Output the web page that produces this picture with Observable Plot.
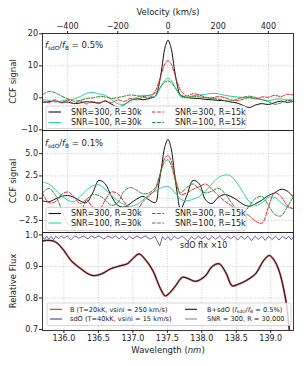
<!DOCTYPE html>
<html><head><meta charset="utf-8">
<script src="https://cdn.jsdelivr.net/npm/d3@7"></script>
<script src="https://cdn.jsdelivr.net/npm/@observablehq/plot@0.6"></script>
<style>
body{margin:0;background:#fff;}
#fig{position:relative;width:304px;height:366px;overflow:hidden;background:#fff;}
</style></head><body><div id="fig"></div><script>
// ---------- data ----------
const vel = [-500,-475,-450,-425,-400,-375,-350,-325,-300,-275,-250,-225,-200,-175,-150,-125,-100,-75,-50,
  -37.5,-25,-12.5,0,12.5,25,37.5,
  50,75,100,125,150,175,200,225,250,275,300,325,350,375,400,425,450,475,500];
// panel 1 : f_sdO/f_B = 0.5%
const p1Snr300R30 = [-1.5,-1.2,-1.0,-1.4,-1.3,-1.8,-1.6,-1.2,-1.4,-1.6,-1.0,-2.0,-2.8,-2.2,-0.8,-0.3,-0.6,-0.2,0.6,
  3.5,9.0,15.5,18.0,15.5,9.2,3.8,
  0.8,0.1,-0.1,-0.2,-0.5,-0.6,-0.8,-0.9,-1.3,-1.6,-2.4,-3.0,-2.2,-1.8,-2.1,-1.5,-1.0,-1.4,-1.1];
const p1Snr100R30 = [-0.5,-0.8,-1.3,-1.0,-0.6,-0.4,0.4,1.4,1.7,1.2,0.8,-0.6,-1.8,-2.0,-1.0,0.1,0.8,0.6,0.5,
  2.0,3.9,5.5,6.1,5.4,3.8,1.9,
  0.4,0.0,0.6,0.9,1.1,1.4,1.3,0.8,0.5,0.3,0.1,-0.1,-0.3,-0.6,-0.9,-0.5,-0.3,-0.6,-0.4];
const p1Snr300R15 = [-0.8,-1.5,-0.6,-1.6,-0.7,-1.8,-1.0,-1.9,-1.1,-1.8,-0.9,-1.5,-0.6,-1.1,-0.2,-0.6,0.2,0.0,2.2,
  4.8,7.8,10.6,11.6,10.6,7.8,4.8,
  2.4,0.6,1.3,0.9,0.2,0.0,0.4,0.1,-0.6,-0.9,-0.4,0.2,-0.3,0.3,0.2,0.8,0.4,1.1,0.9];
const p1Snr100R15 = [1.0,2.0,1.6,0.6,-0.3,-1.0,-0.8,-0.2,0.0,0.4,0.3,-0.2,0.1,0.5,0.9,0.7,0.4,0.8,1.6,
  2.6,3.9,4.9,5.3,4.8,3.6,2.2,
  1.0,0.2,0.5,0.3,0.0,-0.2,-0.4,-0.8,-1.0,-0.4,0.2,0.5,0.1,-0.6,-1.2,-2.0,-1.6,-0.8,-1.0];
// panel 2 : f_sdO/f_B = 0.1%
const p2Snr300R30 = [-0.3,-0.4,-0.1,0.2,0.3,0.1,-0.3,-0.5,0.6,2.0,1.6,0.2,-0.8,-1.0,-0.6,-0.1,0.2,-0.2,-0.5,
  1.4,3.6,5.8,6.6,5.6,3.0,0.4,
  -1.2,0.3,2.0,1.6,-0.2,-0.6,0.1,0.4,0.2,-0.2,-0.7,-0.9,-0.6,-0.2,0.3,0.6,1.0,0.8,0.1];
const p2Snr100R30 = [1.8,1.6,1.0,0.3,-0.2,-0.4,0.2,0.9,1.4,1.5,1.0,0.3,-0.3,-0.7,-0.9,-0.7,-0.2,0.4,0.8,
  1.0,1.2,1.3,1.3,1.1,0.7,0.3,
  -0.1,-0.3,-0.1,0.2,0.8,1.6,2.3,2.6,2.5,1.7,0.6,-0.4,-0.8,-0.5,0.1,0.1,-0.5,-1.0,-1.2];
const p2Snr300R15 = [0.6,-0.5,-0.4,0.4,0.7,0.2,-0.6,-0.2,-1.0,-1.3,-0.2,0.7,0.5,-0.4,-1.2,-1.3,-0.4,0.3,1.0,
  2.0,3.4,4.5,4.8,4.2,2.8,1.4,
  0.4,0.6,1.0,1.3,1.6,1.0,0.3,-0.3,-0.8,-1.2,-1.6,-2.0,-2.6,-2.8,-1.0,0.6,0.2,-0.8,-1.2];
const p2Snr100R15 = [0.6,1.1,0.4,-1.2,-2.8,-3.4,-1.8,-0.2,0.4,0.3,-0.2,-0.8,-0.5,0.8,1.2,0.9,0.5,0.6,1.2,
  2.2,3.3,4.1,4.3,3.7,2.4,1.2,
  0.6,1.2,1.6,1.0,0.6,0.8,1.1,0.6,-0.4,-1.2,-1.6,-0.8,0.0,0.2,-0.8,-1.8,-2.0,-1.0,0.2];
// panel 3 : spectra
const bWl   = [135.69,135.75,135.83,135.90,136.00,136.10,136.24,136.35,136.43,136.55,136.68,136.83,136.92,137.00,137.09,137.17,137.29,137.40,137.47,137.55,137.62,137.72,137.80,137.91,138.05,138.15,138.25,138.35,138.44,138.52,138.64,138.78,138.90,138.98,139.05,139.12,139.22,139.27,139.34];
const bFlux = [0.981,0.983,0.982,0.975,0.951,0.920,0.894,0.877,0.871,0.877,0.893,0.903,0.909,0.925,0.940,0.925,0.887,0.830,0.807,0.820,0.839,0.866,0.862,0.853,0.870,0.900,0.909,0.880,0.839,0.843,0.855,0.877,0.920,0.935,0.920,0.887,0.791,0.700,0.570];
const sdoWl = [135.69,135.72,135.75,135.78,135.815,135.85,135.885,135.92,135.96,136.00,136.05,136.10,136.16,136.22,136.28,136.35,136.40,136.45,136.51,136.58,136.64,136.70,136.75,136.80,136.85,136.90,136.95,137.00,137.06,137.12,137.18,137.25,137.32,137.39,137.43,137.47,137.51,137.55,137.60,137.65,137.72,137.80,137.85,137.90,137.95,138.00,138.05,138.10,138.15,138.20,138.26,138.32,138.37,138.42,138.47,138.52,138.57,138.62,138.67,138.72,138.77,138.82,138.87,138.92,138.97,139.02,139.07,139.12,139.17,139.22,139.26,139.30,139.33];
const sdoFlux = [0.995,0.986,0.996,0.987,0.996,0.985,0.996,0.988,0.997,0.990,0.997,0.985,0.997,0.990,0.997,0.988,0.997,0.991,0.997,0.987,0.997,0.990,0.997,0.988,0.996,0.984,0.996,0.988,0.997,0.989,0.997,0.987,0.996,0.965,0.995,0.985,0.995,0.983,0.996,0.988,0.996,0.980,0.995,0.986,0.996,0.988,0.996,0.984,0.996,0.987,0.996,0.983,0.996,0.988,0.996,0.984,0.996,0.987,0.996,0.982,0.996,0.986,0.996,0.983,0.996,0.986,0.996,0.984,0.996,0.987,0.996,0.985,0.995];
const velTicks = [-400,-200,0,200,400];
const ccf1Ticks = [-10,0,10,20];
const ccf2Ticks = [-2.5,0,2.5,5];
const fluxTicks = [0.7,0.8,0.9,1.0];
const wlTicks = [136,136.5,137,137.5,138,138.5,139];

// ---------- helpers ----------
const minus = s => s.replace("-", "\u2212");
const f0 = d => minus(String(d));
const f1 = d => minus(d.toFixed(1));
const rows = (xs, ys) => xs.map((x, i) => ({x, y: ys[i]}));
const FONT = "DejaVu Sans";
const INK = "#222";
const gridStyle = {stroke: "#b0b0b0", strokeOpacity: 1, strokeWidth: 0.7, strokeDasharray: "1,1.6"};
const C = {black: "#111111", teal: "#2bd19c", red: "#e3262b", green: "#2e8b2e"};
const DASH = "3.6,1.6";
const ML = 42, MR = 11, W = 304;
const fig = document.getElementById("fig");
function place(svg, top) {
  svg.style.position = "absolute"; svg.style.left = "0px"; svg.style.top = top + "px";
  fig.appendChild(svg);
}
const svgStyle = {background: "transparent", overflow: "visible", fontFamily: FONT, fontSize: "8px", color: INK};

function ccfLines(s1, s2, s3, s4) {
  const o = {x: "x", y: "y", curve: "catmull-rom", clip: true, strokeWidth: 1};
  return [
    Plot.line(rows(vel, s1), {...o, stroke: C.black}),
    Plot.line(rows(vel, s2), {...o, stroke: C.teal}),
    Plot.line(rows(vel, s3), {...o, stroke: C.red, strokeDasharray: DASH}),
    Plot.line(rows(vel, s4), {...o, stroke: C.green, strokeDasharray: DASH})
  ];
}

// ---------- panel 1 ----------
place(Plot.plot({
  width: W, height: 130, marginLeft: ML, marginRight: MR, marginTop: 33, marginBottom: 0,
  style: svgStyle,
  x: {domain: [-500, 500]},
  y: {domain: [-10.2, 20.1]},
  marks: [
    Plot.gridX(velTicks, gridStyle),
    Plot.gridY([0, 10], gridStyle),
    ...ccfLines(p1Snr300R30, p1Snr100R30, p1Snr300R15, p1Snr100R15),
    Plot.frame({stroke: INK, strokeWidth: 0.9}),
    Plot.axisX({anchor: "top", ticks: velTicks, tickFormat: f0, tickSize: 3, tickPadding: 1.5, label: null}),
    Plot.axisY({ticks: ccf1Ticks, tickFormat: f0, tickSize: 3, tickPadding: 1.5, label: null})
  ]
}), 0);

// ---------- panel 2 ----------
place(Plot.plot({
  width: W, height: 102, marginLeft: ML, marginRight: MR, marginTop: 0, marginBottom: 0,
  style: svgStyle,
  x: {domain: [-500, 500], axis: null},
  y: {domain: [-3.85, 7.6]},
  marks: [
    Plot.gridX(velTicks, gridStyle),
    Plot.gridY(ccf2Ticks, gridStyle),
    ...ccfLines(p2Snr300R30, p2Snr100R30, p2Snr300R15, p2Snr100R15),
    Plot.frame({stroke: INK, strokeWidth: 0.9}),
    Plot.axisY({ticks: ccf2Ticks, tickFormat: f1, tickSize: 3, tickPadding: 1.5, label: null})
  ]
}), 130);

// ---------- panel 3 ----------
const bRows = rows(bWl, bFlux);
place(Plot.plot({
  width: W, height: 134, marginLeft: ML, marginRight: MR, marginTop: 0, marginBottom: 36,
  style: svgStyle,
  x: {domain: [135.69, 139.33]},
  y: {domain: [0.697, 1.008]},
  marks: [
    Plot.gridX(wlTicks, gridStyle),
    Plot.gridY([0.8, 0.9, 1.0], gridStyle),
    Plot.line(rows(sdoWl, sdoFlux), {x: "x", y: "y", stroke: "#483d8b", strokeWidth: 0.8, clip: true}),
    Plot.line(bRows, {x: "x", y: "y", curve: "catmull-rom", stroke: "#8a8a8a", strokeOpacity: 0.6, strokeWidth: 2.4, clip: true}),
    Plot.line(bRows, {x: "x", y: "y", curve: "catmull-rom", stroke: "#d62728", strokeWidth: 1.2, clip: true}),
    Plot.line(bRows, {x: "x", y: "y", curve: "catmull-rom", stroke: "#201010", strokeWidth: 0.9, clip: true}),
    Plot.frame({stroke: INK, strokeWidth: 0.9}),
    Plot.axisX({ticks: wlTicks, tickFormat: f1, tickSize: 3, tickPadding: 1.5, label: null}),
    Plot.axisY({ticks: fluxTicks, tickFormat: f1, tickSize: 3, tickPadding: 1.5, label: null})
  ]
}), 232);

// ---------- text, labels, legends ----------
const NS = "http://www.w3.org/2000/svg";
const ov = document.createElementNS(NS, "svg");
ov.setAttribute("width", 304); ov.setAttribute("height", 366);
ov.style.position = "absolute"; ov.style.left = "0px"; ov.style.top = "0px";
ov.setAttribute("font-family", FONT); ov.setAttribute("fill", INK);
const ratio = (pct, fs) => {
  const s = fs * 0.68;
  return `<tspan font-style="italic">f</tspan><tspan font-size="${s}" dy="${fs*0.22}">sdO</tspan><tspan dy="${-fs*0.22}">/</tspan><tspan font-style="italic">f</tspan><tspan font-size="${s}" dy="${fs*0.22}">B</tspan><tspan dy="${-fs*0.22}"> = ${pct}</tspan>`;
};
function legend(box, fs, cols, rowsY, entries) {
  let s = `<rect x="${box[0]}" y="${box[1]}" width="${box[2]}" height="${box[3]}" rx="2" fill="#fff" fill-opacity="0.8" stroke="#cccccc" stroke-width="0.8"/>`;
  entries.forEach((e, i) => {
    const c = cols[Math.floor(i / 2)], y = rowsY[i % 2];
    s += `<line x1="${c[0]}" x2="${c[1]}" y1="${y}" y2="${y}" stroke="${e.color}" stroke-width="1.1" ${e.dash ? `stroke-dasharray="${e.dash}"` : ""}/>`;
    s += `<text x="${c[2]}" y="${y}" dy="0.35em" font-size="${fs}">${e.label}</text>`;
  });
  return s;
}
const ccfEntries = [
  {color: C.black, label: "SNR=300, R=30k"},
  {color: C.teal, label: "SNR=100, R=30k"},
  {color: C.red, dash: DASH, label: "SNR=300, R=15k"},
  {color: C.green, dash: DASH, label: "SNR=100, R=15k"}
];
const specEntries = [
  {color: "#d62728", label: "B (T=20kK, vsini = 250 km/s)"},
  {color: "#483d8b", label: "sdO (T=40kK, vsini = 15 km/s)"},
  {color: "#201010", label: "B+sdO (" + ratio("0.5%)", 6.6)},
  {color: "#8a8a8a", label: "SNR = 300, R = 30,000"}
];
ov.innerHTML =
  `<text x="168" y="15" font-size="8.5" text-anchor="middle">Velocity (km/s)</text>` +
  `<text transform="translate(15.5,81.5) rotate(-90)" font-size="8.5" text-anchor="middle">CCF signal</text>` +
  `<text transform="translate(15.5,181) rotate(-90)" font-size="8.5" text-anchor="middle">CCF signal</text>` +
  `<text transform="translate(15.5,281) rotate(-90)" font-size="8.5" text-anchor="middle">Relative Flux</text>` +
  `<text x="168" y="353" font-size="8.5" text-anchor="middle">Wavelength (<tspan font-style="italic">nm</tspan>)</text>` +
  `<text x="45" y="48" font-size="8.5">${ratio("0.5%", 8.5)}</text>` +
  `<text x="45" y="146" font-size="8.5">${ratio("0.1%", 8.5)}</text>` +
  `<text x="180" y="248" font-size="8">sdO flx \u00d710</text>` +
  legend([46, 106, 200, 22.5], 8, [[48.5, 61, 71], [152, 164, 175]], [112, 122.5], ccfEntries) +
  legend([46, 207.5, 200, 23], 8, [[48.5, 61, 71], [152, 164, 175]], [213.5, 223], ccfEntries) +
  legend([47, 303, 244, 22.5], 6.6, [[50, 62, 70], [185, 197, 207]], [309.3, 319], specEntries);
fig.appendChild(ov);
</script></body></html>
